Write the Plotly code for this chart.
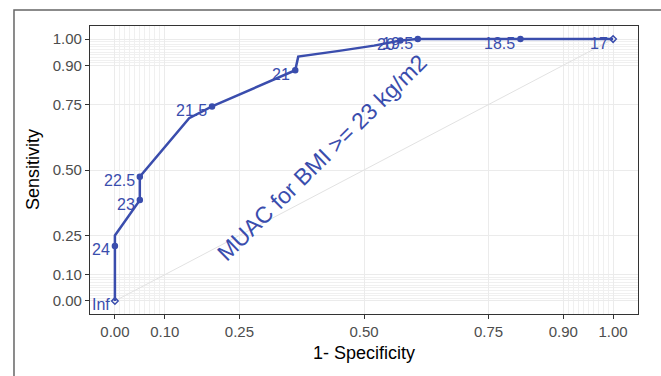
import plotly.graph_objects as go

# ROC curve path (1 - specificity, sensitivity)
curve_fpr = [0, 0, 0, 0.05, 0.05, 0.149, 0.195, 0.362, 0.368, 0.45, 0.52, 0.573, 0.608, 0.814, 1.0]
curve_tpr = [0, 0.21, 0.25, 0.385, 0.474, 0.698, 0.743, 0.881, 0.933, 0.955, 0.975, 0.995, 1.0, 1.0, 1.0]

# Labelled cut-off points
cut_labels = ["Inf", "24", "23", "22.5", "21.5", "21", "20", "19.5", "18.5", "17"]
cut_fpr = [0, 0, 0.05, 0.05, 0.195, 0.362, 0.573, 0.608, 0.814, 1.0]
cut_tpr = [0, 0.21, 0.385, 0.474, 0.743, 0.881, 0.995, 1.0, 1.0, 1.0]

tick_vals = [0, 0.1, 0.25, 0.5, 0.75, 0.9, 1.0]
tick_text = ["0.00", "0.10", "0.25", "0.50", "0.75", "0.90", "1.00"]

BLUE = "#3A4DAD"
FONT = "Liberation Sans, Arial, sans-serif"

minor_vals = [i / 100 for i in range(1, 10)] + [i / 100 for i in range(91, 100)]

fig = go.Figure()

# diagonal reference
fig.add_trace(go.Scatter(x=[0, 1], y=[0, 1], mode="lines",
                         line=dict(color="#E2E2E2", width=1), hoverinfo="skip", showlegend=False))

fig.add_trace(go.Scatter(x=curve_fpr, y=curve_tpr, mode="lines",
                         line=dict(color=BLUE, width=2.5), showlegend=False))

symbols = ["diamond-open" if l in ("Inf", "17") else "circle" for l in cut_labels]
fig.add_trace(go.Scatter(x=cut_fpr, y=cut_tpr, mode="markers",
                         marker=dict(color=BLUE, size=5, symbol=symbols,
                                     line=dict(color=BLUE, width=1.5)),
                         showlegend=False))

for lab, x, y in zip(cut_labels, cut_fpr, cut_tpr):
    fig.add_annotation(x=x, y=y, text=lab, showarrow=False, xanchor="right", yanchor="middle",
                       xshift=-3, yshift=-4, font=dict(family=FONT, size=16, color=BLUE))

fig.add_annotation(x=0.415, y=0.545, text="MUAC for BMI >= 23 kg/m2", showarrow=False,
                   textangle=-44.5, font=dict(family=FONT, size=23, color=BLUE))

axis_common = dict(
    range=[-0.05, 1.05], tickvals=tick_vals, ticktext=tick_text, zeroline=False,
    showgrid=True, gridcolor="#EBEBEB", gridwidth=1, automargin=False,
    minor=dict(tickvals=minor_vals, showgrid=True, gridcolor="#F0F0F0", gridwidth=0.6, ticks=""),
    ticks="outside", ticklen=4, tickcolor="#333333", tickwidth=1,
    tickfont=dict(family=FONT, size=15, color="#4D4D4D"),
    showline=True, linecolor="#333333", linewidth=1.2, mirror=True,
)

fig.update_xaxes(**axis_common)
fig.update_yaxes(**axis_common)

# axis titles (as annotations for exact placement)
fig.add_annotation(xref="paper", yref="paper", x=0.5, y=-0.135, yanchor="middle", showarrow=False,
                   text="1- Specificity", font=dict(family=FONT, size=18, color="#000000"))
fig.add_annotation(xref="paper", yref="paper", x=-0.104, y=0.5, xanchor="center", showarrow=False,
                   textangle=-90, text="Sensitivity", font=dict(family=FONT, size=18, color="#000000"))

# outer frame
fig.add_shape(type="rect", xref="paper", yref="paper", x0=-0.1387, x1=1.0547, y0=-0.25, y1=1.0556,
              line=dict(color="#666666", width=1.5), layer="below")

fig.update_layout(width=661, height=376, margin=dict(l=90, r=23, t=26, b=62),
                  plot_bgcolor="white", paper_bgcolor="white", showlegend=False,
                  font=dict(family=FONT))

fig.write_html("out.html", config={"displayModeBar": False},
               post_script="document.body.style.margin='0';document.body.style.overflow='hidden';")
